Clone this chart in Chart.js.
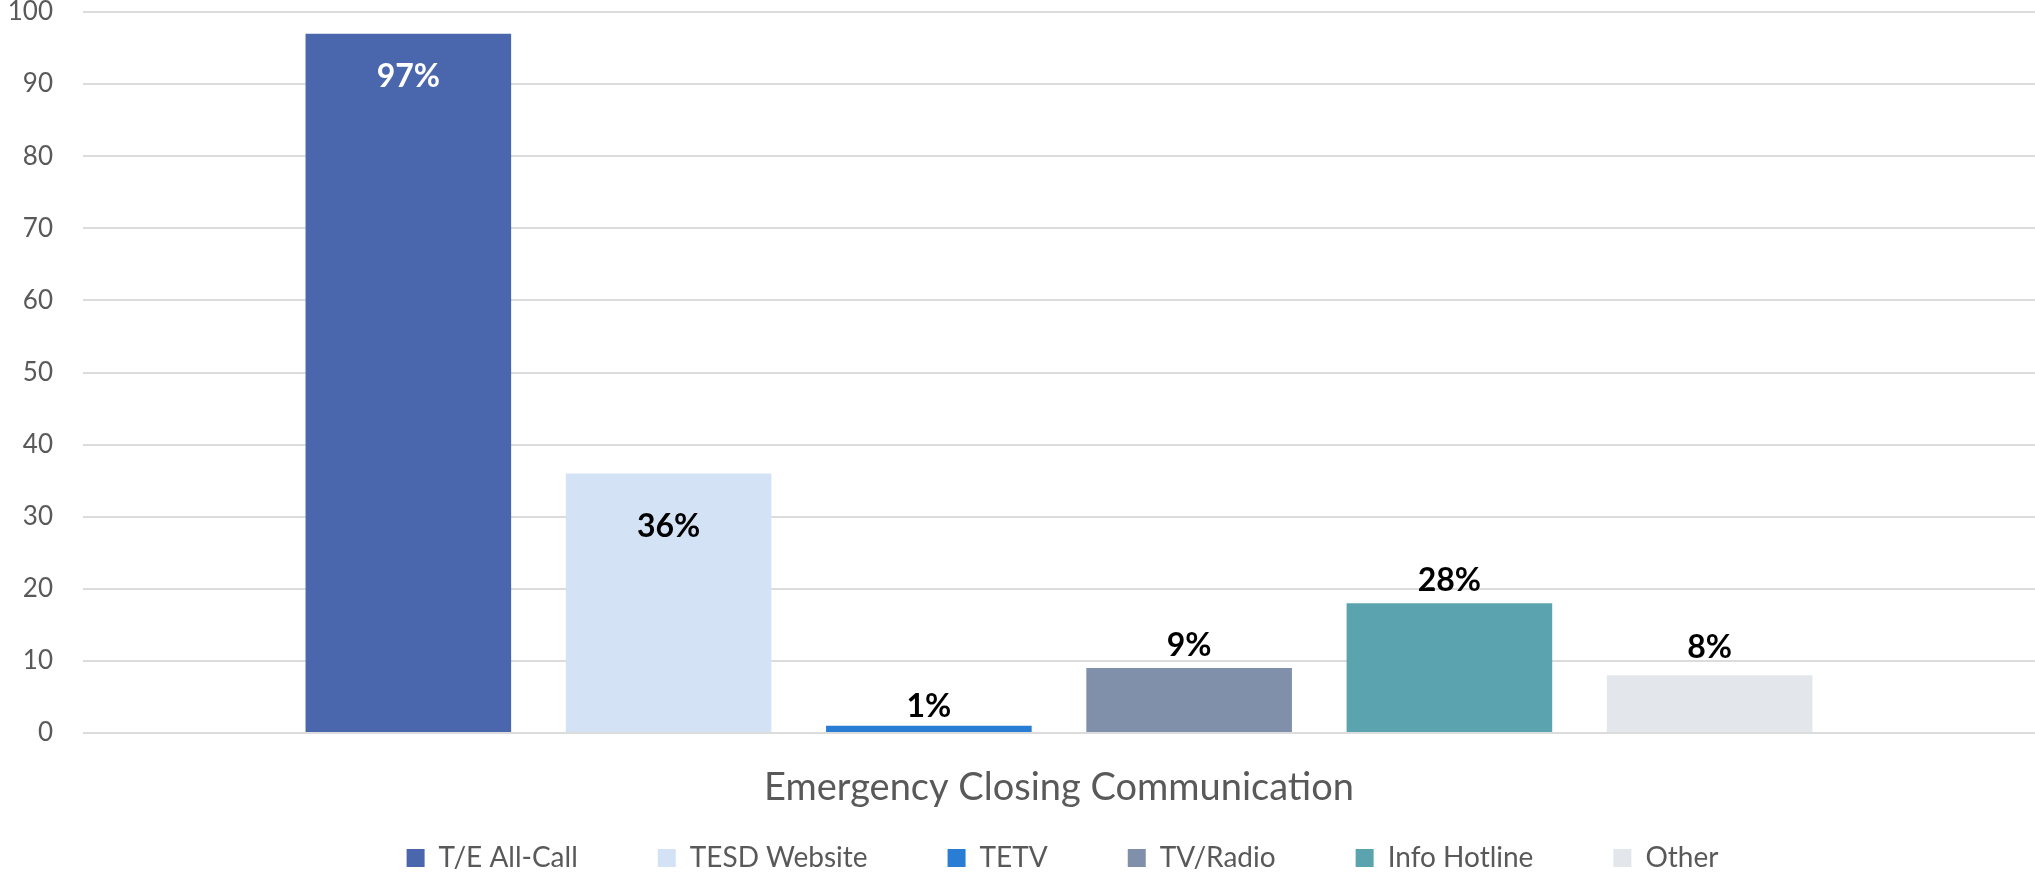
<!DOCTYPE html>
<html>
<head>
<meta charset="utf-8">
<script src="https://cdn.jsdelivr.net/npm/chart.js@4.4.1/dist/chart.umd.min.js"></script>
<style>
  html, body { margin: 0; padding: 0; background: #ffffff; }
  #wrap { width: 2035px; height: 873px; position: relative; }
</style>
</head>
<body>
<div id="wrap"><canvas id="c" width="2035" height="873"></canvas></div>
<script>
// ---- data ----
const categories = ["Emergency Closing Communication"];
const seriesNames = ["T/E All-Call", "TESD Website", "TETV", "TV/Radio", "Info Hotline", "Other"];
const seriesValues = [97, 36, 1, 9, 18, 8];
const valueLabels = ["97%", "36%", "1%", "9%", "28%", "8%"];
const yMin = 0;
const yMax = 100;
const yStep = 10;

// ---- style ----
const seriesColors = ["#4a67ad", "#d3e3f5", "#2a7dd5", "#8190aa", "#5ba3ae", "#e3e7ec"];
const FONT = "Lato";
const labelPlacement = [
  { dy: 43, color: "#ffffff" },
  { dy: 53, color: "#000000" },
  { dy: -19, color: "#000000" },
  { dy: -22, color: "#000000" },
  { dy: -23, color: "#000000" },
  { dy: -28, color: "#000000" }
];

const valueLabelPlugin = {
  id: "valueLabels",
  afterDatasetsDraw(chart) {
    const ctx = chart.ctx;
    ctx.save();
    ctx.font = "bold 32px " + FONT;
    ctx.textAlign = "center";
    ctx.textBaseline = "middle";
    chart.data.datasets.forEach((ds, i) => {
      const meta = chart.getDatasetMeta(i);
      const bar = meta.data[0];
      if (!bar) return;
      const p = labelPlacement[i];
      ctx.fillStyle = p.color;
      ctx.fillText(valueLabels[i], bar.x, bar.y + p.dy);
    });
    ctx.restore();
  }
};

const LEGEND_GAP = 80;
const legendPatch = {
  id: "legendPatch",
  beforeLayout(chart) {
    const lg = chart.legend;
    if (lg && !lg._patched) {
      const orig = lg.fit.bind(lg);
      lg.fit = function () { orig(); this.height = 40; };
      lg._patched = true;
    }
  },
  afterLayout(chart) {
    const lg = chart.legend;
    if (!lg) return;
    lg.top = 844 - LEGEND_GAP;
    lg.left += 43;
    lg.right += 43;
  }
};

const ctx = document.getElementById("c").getContext("2d");
new Chart(ctx, {
  type: "bar",
  data: {
    labels: categories,
    datasets: seriesNames.map((name, i) => ({
      label: name,
      data: [seriesValues[i]],
      backgroundColor: seriesColors[i],
      borderWidth: 0,
      categoryPercentage: 0.8,
      barPercentage: 0.79
    }))
  },
  options: {
    responsive: false,
    devicePixelRatio: 1,
    animation: false,
    layout: { padding: { top: 12, right: -4, left: 0, bottom: 0 } },
    scales: {
      x: {
        grid: { display: false, drawTicks: false },
        border: { display: false },
        ticks: { color: "#595959", font: { family: FONT, size: 38 }, padding: 32 },
        afterFit(s) { s.height = 100; s.paddingLeft = 0; s.paddingRight = 0; }
      },
      y: {
        min: yMin,
        max: yMax,
        ticks: { stepSize: yStep, color: "#595959", font: { family: FONT, size: 26 }, padding: 30 },
        grid: { color: "#dcdcdc", lineWidth: 2, drawTicks: false },
        border: { display: false },
        afterFit(s) { s.width = 83; s.paddingTop = 0; s.paddingBottom = 0; }
      }
    },
    plugins: {
      legend: {
        position: "bottom",
        labels: {
          boxWidth: 18,
          boxHeight: 18,
          padding: LEGEND_GAP,
          color: "#595959",
          font: { family: FONT, size: 28 }
        }
      },
      tooltip: { enabled: false }
    }
  },
  plugins: [valueLabelPlugin, legendPatch]
});
</script>
</body>
</html>
